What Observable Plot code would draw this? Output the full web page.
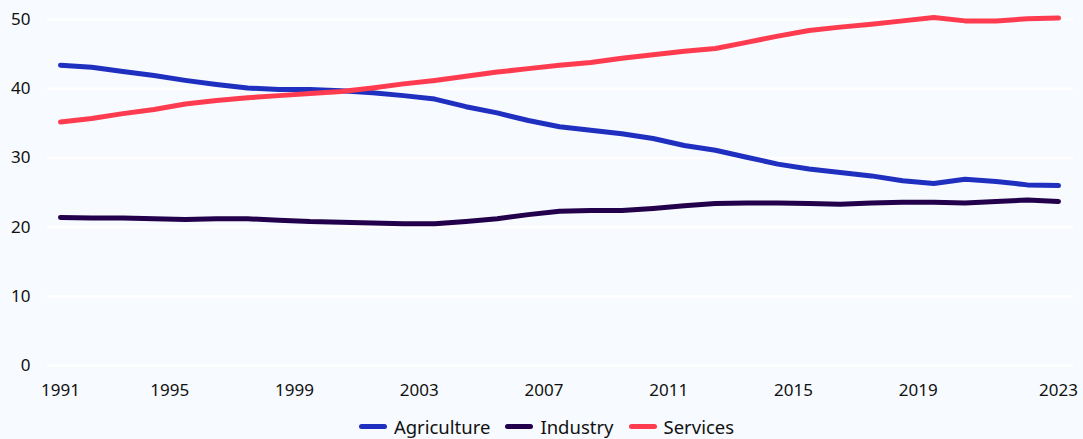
<!DOCTYPE html>
<html>
<head>
<meta charset="utf-8">
<script src="https://cdn.jsdelivr.net/npm/d3@7"></script>
<script src="https://cdn.jsdelivr.net/npm/@observablehq/plot@0.6"></script>
<style>
  html, body { margin: 0; padding: 0; background: #f7fafe; }
  body { width: 1083px; height: 439px; overflow: hidden; font-family: "Noto Sans", sans-serif; color: #111; }
  #chart svg { display: block; }
  #legend { display: flex; justify-content: center; align-items: center; height: 24px; margin-top: 2px; font-size: 18.5px; padding-left: 10px; }
  .item { display: flex; align-items: center; margin: 0 7.5px; }
  .sw { width: 28px; height: 5px; border-radius: 3px; margin-right: 7px; }
</style>
</head>
<body>
<div id="chart"></div>
<div id="legend"></div>
<script>
const years = [1991,1992,1993,1994,1995,1996,1997,1998,1999,2000,2001,2002,2003,2004,2005,2006,2007,2008,2009,2010,2011,2012,2013,2014,2015,2016,2017,2018,2019,2020,2021,2022,2023];
const agriculture = [43.4,43.1,42.5,41.9,41.2,40.6,40.1,39.9,39.9,39.7,39.4,39.0,38.5,37.4,36.5,35.4,34.5,34.0,33.5,32.8,31.8,31.1,30.1,29.1,28.4,27.9,27.4,26.7,26.3,26.9,26.6,26.1,26.0];
const industry = [21.4,21.3,21.3,21.2,21.1,21.2,21.2,21.0,20.8,20.7,20.6,20.5,20.5,20.8,21.2,21.8,22.3,22.4,22.4,22.7,23.1,23.4,23.5,23.5,23.4,23.3,23.5,23.6,23.6,23.5,23.7,23.9,23.7];
const services = [35.2,35.7,36.4,37.0,37.8,38.3,38.7,39.0,39.3,39.6,40.1,40.7,41.2,41.8,42.4,42.9,43.4,43.8,44.4,44.9,45.4,45.8,46.7,47.6,48.4,48.9,49.3,49.8,50.3,49.8,49.8,50.1,50.2];
const seriesNames = ["Agriculture", "Industry", "Services"];
const seriesColors = ["#1f30c0", "#22004b", "#ff3b4f"];
const xTickYears = [1991,1995,1999,2003,2007,2011,2015,2019,2023];
const yTicks = [0,10,20,30,40,50];

const seriesValues = [agriculture, industry, services];
const rows = [];
seriesNames.forEach((name, s) => {
  years.forEach((yr, i) => rows.push({series: name, year: yr, value: seriesValues[s][i]}));
});

// Inner tick labels sit at the start of each year (data are annual mid-points);
// the first and last labels sit at the ends of the data.
const first = xTickYears[0], last = xTickYears[xTickYears.length - 1];
const tickPos = y => (y === first || y === last) ? y : y - 0.5;
const posToLabel = new Map(xTickYears.map(y => [tickPos(y), String(y)]));

const chart = Plot.plot({
  width: 1083,
  height: 412,
  marginTop: 19,
  marginBottom: 47,
  marginLeft: 47,
  marginRight: 10,
  style: {background: "transparent", fontFamily: "Noto Sans, sans-serif", fontSize: "17px", color: "#111"},
  x: {domain: [1990.583, 2023.48]},
  y: {domain: [0, 50]},
  color: {domain: seriesNames, range: seriesColors},
  marks: [
    Plot.gridY(yTicks, {stroke: "#ffffff", strokeOpacity: 1, strokeWidth: 2.5}),
    Plot.axisY(yTicks, {tickSize: 0, tickPadding: 17, label: null, fontSize: 17}),
    Plot.axisX(xTickYears.map(tickPos), {tickSize: 0, tickPadding: 18, label: null, fontSize: 17, tickFormat: d => posToLabel.get(d)}),
    Plot.line(rows, {x: "year", y: "value", z: "series", stroke: "series", strokeWidth: 5, strokeLinecap: "round", strokeLinejoin: "round"})
  ]
});
document.getElementById("chart").appendChild(chart);

const legend = document.getElementById("legend");
seriesNames.forEach((name, i) => {
  const item = document.createElement("div");
  item.className = "item";
  const sw = document.createElement("span");
  sw.className = "sw";
  sw.style.background = seriesColors[i];
  const lab = document.createElement("span");
  lab.textContent = name;
  item.appendChild(sw);
  item.appendChild(lab);
  legend.appendChild(item);
});
</script>
</body>
</html>
